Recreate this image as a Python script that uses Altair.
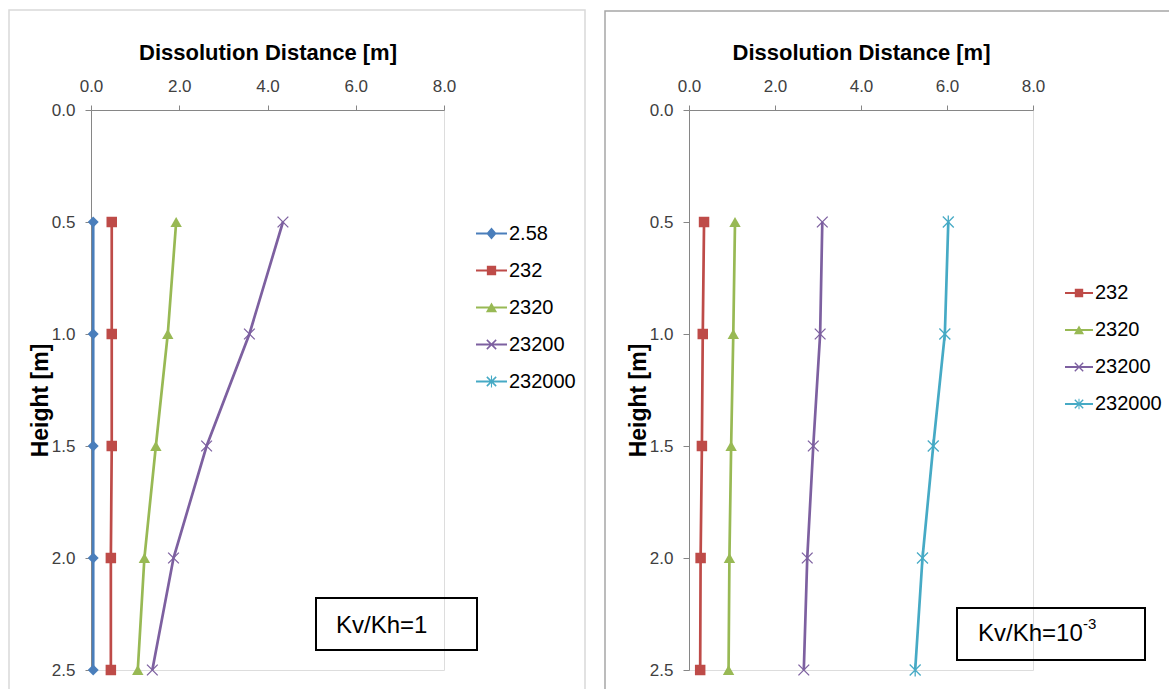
import altair as alt
import pandas as pd

# Heights of the observation points [m]
heights = [0.5, 1.0, 1.5, 2.0, 2.5]

# Kv/Kh = 1: dissolution distance [m] per case
series_iso = ["2.58", "232", "2320", "23200", "232000"]
iso_258 = [0.05, 0.05, 0.05, 0.05, 0.05]
iso_232 = [0.47, 0.47, 0.47, 0.45, 0.45]
iso_2320 = [1.93, 1.74, 1.47, 1.21, 1.06]
iso_23200 = [4.35, 3.59, 2.62, 1.87, 1.39]

# Kv/Kh = 1e-3: dissolution distance [m] per case
series_aniso = ["232", "2320", "23200", "232000"]
aniso_232 = [0.35, 0.32, 0.30, 0.27, 0.26]
aniso_2320 = [1.07, 1.03, 0.98, 0.94, 0.92]
aniso_23200 = [3.10, 3.05, 2.89, 2.75, 2.67]
aniso_232000 = [6.03, 5.95, 5.68, 5.43, 5.26]

x_ticks = [0, 2, 4, 6, 8]
y_ticks = [0.0, 0.5, 1.0, 1.5, 2.0, 2.5]

ratio_iso = "Kv/Kh=1"
ratio_aniso = "Kv/Kh=10"
ratio_aniso_exp = "-3"

# ---- styling -------------------------------------------------------------
SANS = "Liberation Sans, Arial"
AXIS_GREY = "#868686"

COLORS = {
    "2.58": "#4A7EBB",
    "232": "#BE4B48",
    "2320": "#98B954",
    "23200": "#7D60A0",
    "232000": "#46AAC5",
}

X_PATH = "M-1,-1L1,1M-1,1L1,-1"
STAR_PATH = "M-1,-1L1,1M-1,1L1,-1M0,-1.2V1.2"
MARKERS = {
    "2.58": dict(shape="diamond", filled=True, size=120, strokeWidth=0),
    "232": dict(shape="square", filled=True, size=110, strokeWidth=0),
    "2320": dict(shape="triangle-up", filled=True, size=130, strokeWidth=0),
    "23200": dict(shape=X_PATH, filled=False, size=115, strokeWidth=1.3),
    "232000": dict(shape=STAR_PATH, filled=False, size=120, strokeWidth=1.3),
}

# Legend keys: a line segment with the series marker on top (all filled outlines)
KEY_LINE = "M-1,-0.07V0.07H1V-0.07Z"
KEY_X = ("M-0.335,-0.265L0.265,0.335L0.335,0.265L-0.265,-0.335Z"
         "M-0.265,0.335L0.335,-0.265L0.265,-0.335L-0.335,0.265Z")
KEY_SYMBOLS = {
    "2.58": KEY_LINE + "M0,-0.38L-0.33,0L0,0.38L0.33,0Z",
    "232": KEY_LINE + "M-0.3,-0.3V0.3H0.3V-0.3Z",
    "2320": KEY_LINE + "M0,-0.33L-0.36,0.3L0.36,0.3Z",
    "23200": KEY_LINE + KEY_X,
    "232000": KEY_LINE + KEY_X + "M-0.035,-0.38V0.38H0.035V-0.38Z",
}

ONE = pd.DataFrame({"k": [0]})


def long_table(columns):
    rows = []
    for name, values in columns.items():
        for h, d in zip(heights, values):
            rows.append({"series": name, "height": h, "distance": d})
    return pd.DataFrame(rows)


def x_enc():
    return alt.X(
        "distance:Q",
        scale=alt.Scale(domain=[0, 8], nice=False, zero=False),
        axis=alt.Axis(
            orient="top", values=x_ticks, format=".1f",
            title="Dissolution Distance [m]", titleFont=SANS, titleFontSize=22,
            titleFontWeight="bold", titleColor="black", titleBaseline="alphabetic",
            titleY=-51,
            labelFont=SANS, labelFontSize=17, labelColor="#404040",
            labelBaseline="alphabetic", labelPadding=14, labelFlush=False,
            labelOverlap=False, tickSize=5, tickColor=AXIS_GREY,
            domainColor=AXIS_GREY, grid=False,
        ),
    )


def y_enc():
    return alt.Y(
        "height:Q",
        scale=alt.Scale(domain=[0, 2.5], reverse=True, nice=False, zero=False),
        axis=alt.Axis(
            orient="left", values=y_ticks, format=".1f",
            title="Height [m]", titleFont=SANS, titleFontSize=23,
            titleFontWeight="bold", titleColor="black", titleAngle=270,
            titleBaseline="alphabetic", titleAlign="center", titleX=-44, titleY=290,
            labelFont=SANS, labelFontSize=17, labelColor="#404040",
            labelPadding=10, labelFlush=False, labelOverlap=False,
            tickSize=6, tickColor=AXIS_GREY, domainColor=AXIS_GREY, grid=False,
        ),
    )


def rect_layer(x, x2, y, y2, color, width):
    return alt.Chart(ONE).mark_rect(
        fillOpacity=0, stroke=color, strokeWidth=width
    ).encode(x=alt.value(x), x2=alt.value(x2), y=alt.value(y), y2=alt.value(y2))


def text_layer(text, x, y, size):
    return alt.Chart(ONE).mark_text(
        text=text, font=SANS, fontSize=size, align="left",
        baseline="alphabetic", color="black",
    ).encode(x=alt.value(x), y=alt.value(y))


def panel(columns, series, width, frame, frame_color, key_pos, key_size, key_pad, notes):
    df = long_table(columns)
    base = alt.Chart(df)

    # one line + marker layer per case
    curves = []
    for s in columns:
        sub = base.transform_filter(alt.datum.series == s)
        curves.append(
            sub.mark_line(strokeWidth=2.7, color=COLORS[s]).encode(
                x=x_enc(), y=y_enc(), order="height:Q"
            )
        )
        curves.append(
            sub.mark_point(opacity=1, color=COLORS[s], **MARKERS[s]).encode(
                x=x_enc(), y=y_enc()
            )
        )

    # legend carrier: no marks drawn, only the colour/shape keys
    legend = alt.Legend(
        title=None, orient="none", legendX=key_pos[0], legendY=key_pos[1],
        padding=0, symbolSize=key_size, symbolStrokeWidth=0, symbolOpacity=1,
        labelFont=SANS, labelFontSize=20, labelColor="black", labelOffset=2,
        rowPadding=key_pad,
    )
    key = base.transform_filter("false").mark_point(filled=True, opacity=1).encode(
        color=alt.Color(
            "series:N",
            scale=alt.Scale(domain=series, range=[COLORS[s] for s in series]),
            legend=legend,
        ),
        shape=alt.Shape(
            "series:N",
            scale=alt.Scale(domain=series, range=[KEY_SYMBOLS[s] for s in series]),
            legend=legend,
        ),
    )

    frame_l = rect_layer(*frame, frame_color, 1.5)
    box = rect_layer(*notes["box"], "black", 2)
    texts = [text_layer(*t) for t in notes["texts"]]

    return alt.layer(frame_l, *curves, key, box, *texts).properties(
        width=width, height=560
    )


left = panel(
    {"2.58": iso_258, "232": iso_232, "2320": iso_2320, "23200": iso_23200},
    series_iso, 353,
    frame=(-82, 494, -100, 600), frame_color="#d9d9d9",
    key_pos=(385, 108), key_size=961, key_pad=11,
    notes={"box": (225, 386, 488, 540), "texts": [(ratio_iso, 245, 523, 24)]},
)

right = panel(
    {"232": aniso_232, "2320": aniso_2320, "23200": aniso_23200, "232000": aniso_232000},
    series_aniso, 344,
    frame=(-84, 490, -99, 600), frame_color="#a6a6a6",
    key_pos=(376, 169), key_size=784, key_pad=13,
    notes={"box": (268, 456, 498, 550),
           "texts": [(ratio_aniso, 289, 531, 24), (ratio_aniso_exp, 394, 519, 15)]},
)

chart = (
    alt.hconcat(
        left, right, spacing=245, bounds="flush",
        autosize=alt.AutoSizeParams(type="none"),
        padding={"left": 91, "top": 110, "right": 1169 - 91, "bottom": 689 - 110},
    )
    .resolve_scale(color="independent", shape="independent")
    .resolve_legend(color="independent", shape="independent")
    .configure_view(stroke=None)
    .configure(background="white")
)

chart.save("out.html", embed_options={"renderer": "svg", "actions": False})
